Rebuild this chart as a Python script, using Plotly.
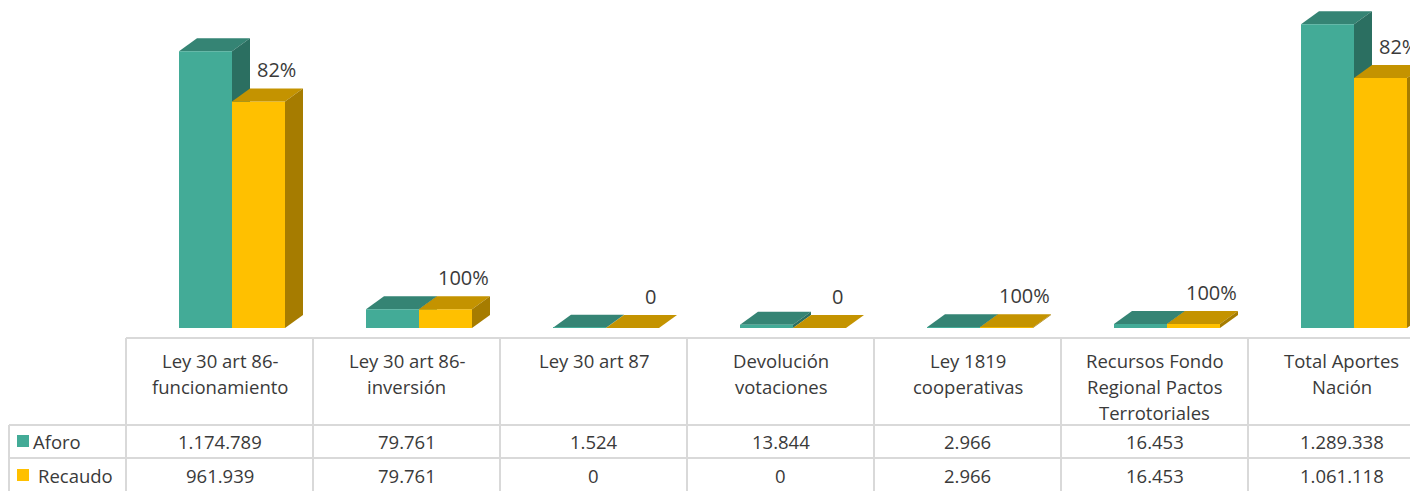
import plotly.graph_objects as go

categories = [
    "Ley 30 art 86-\nfuncionamiento",
    "Ley 30 art 86-\ninversión",
    "Ley 30 art 87",
    "Devolución\nvotaciones",
    "Ley 1819\ncooperativas",
    "Recursos Fondo\nRegional Pactos\nTerrotoriales",
    "Total Aportes\nNación",
]
aforo = [1174789, 79761, 1524, 13844, 2966, 16453, 1289338]
recaudo = [961939, 79761, 0, 0, 2966, 16453, 1061118]
series_names = ["Aforo", "Recaudo"]

PAGE_W, PAGE_H = 1418, 491
PAD = 8                     # browser body margin around the figure
W, H = PAGE_W - PAD, PAGE_H - PAD
BASE_PX = 328.0             # page pixel row of the value 0
K = 276.7 / 1174789         # pixels per unit
COL_W = 187.0               # pixels per category column
COL0_PX = 219.5             # page pixel centre of the first column


def yv(py):
    """page pixel row -> y data value"""
    return (BASE_PX - py) / K


def xv(px):
    """page pixel column -> x data value"""
    return (px - COL0_PX) / COL_W


DX = 18 / COL_W
DY = 13 / K
BAR_W = 53 / COL_W
OFF = {"Aforo": -40.5 / COL_W, "Recaudo": 12.5 / COL_W}
COLORS = {
    "Aforo": ("#43AB97", "#358474", "#2B6F61"),
    "Recaudo": ("#FFC000", "#C49300", "#A67C00"),
}
TXT = "#3A3A3A"
FONT = "Open Sans"
GRID = "#D9D9D9"

pos = list(range(len(categories)))
fig = go.Figure()
shapes = []

for name, vals in zip(series_names, [aforo, recaudo]):
    front, top, side = COLORS[name]
    fig.add_trace(go.Bar(
        x=pos, y=vals, name=name, offset=OFF[name], width=BAR_W,
        marker=dict(color=front, line=dict(width=0)), showlegend=False,
        hoverinfo="y",
    ))
    layer = "below" if name == "Aforo" else "above"
    for i, v in zip(pos, vals):
        xl = i + OFF[name]
        xr = xl + BAR_W
        # top face
        shapes.append(dict(
            type="path", xref="x", yref="y", layer=layer,
            path=f"M{xl},{v} L{xr},{v} L{xr+DX},{v+DY} L{xl+DX},{v+DY} Z",
            fillcolor=top, line=dict(width=0),
        ))
        # side face
        shapes.append(dict(
            type="path", xref="x", yref="y", layer=layer,
            path=f"M{xr},0 L{xr},{v} L{xr+DX},{v+DY} L{xr+DX},{DY} Z",
            fillcolor=side, line=dict(width=0),
        ))

annotations = []
# percentage labels
for i, a, r in zip(pos, aforo, recaudo):
    pct = r / a
    label = "0" if r == 0 else f"{round(pct * 100)}%"
    annotations.append(dict(
        x=i + OFF["Recaudo"] + BAR_W / 2 + DX, y=r, xref="x", yref="y",
        text=label, showarrow=False, yshift=32, xanchor="center", yanchor="middle",
        font=dict(family=FONT, size=20, color=TXT),
    ))

# table grid
def hline(py, px0, px1):
    shapes.append(dict(type="line", xref="x", yref="y", layer="above",
                       x0=xv(px0), x1=xv(px1), y0=yv(py), y1=yv(py),
                       line=dict(color=GRID, width=2)))


def vline(px, py0, py1):
    shapes.append(dict(type="line", xref="x", yref="y", layer="above",
                       x0=xv(px), x1=xv(px), y0=yv(py0), y1=yv(py1),
                       line=dict(color=GRID, width=2)))


TOP_PX, ROW1_PX, ROW2_PX = 338, 425, 458
hline(TOP_PX, 126, PAGE_W + 10)
hline(ROW1_PX, 9, PAGE_W + 10)
hline(ROW2_PX, 9, PAGE_W + 10)
vline(9, ROW1_PX, PAGE_H + 5)
for i in pos:
    left = COL0_PX + COL_W * (i - 0.5)
    vline(left, TOP_PX, PAGE_H + 5)
vline(COL0_PX + COL_W * (len(pos) - 0.5), TOP_PX, PAGE_H + 5)

# header texts
for i, cat in zip(pos, categories):
    for j, line in enumerate(cat.split("\n")):
        annotations.append(dict(
            x=i, y=yv(360 + 26 * j), xref="x", yref="y", text=line,
            showarrow=False, xanchor="center", yanchor="middle",
            font=dict(family=FONT, size=18.5, color=TXT),
        ))

def fmt(v):
    return f"{v:,}".replace(",", ".")

for row_py, vals in zip([441, 475], [aforo, recaudo]):
    for i, v in zip(pos, vals):
        annotations.append(dict(
            x=i, y=yv(row_py), xref="x", yref="y", text=fmt(v),
            showarrow=False, xanchor="center", yanchor="middle",
            font=dict(family=FONT, size=18.5, color=TXT),
        ))

# legend keys inside the table
for name, row_py, text_px in zip(series_names, [441, 475], [31, 36]):
    shapes.append(dict(type="rect", xref="x", yref="y", layer="above",
                       x0=xv(17), x1=xv(29), y0=yv(row_py - 6), y1=yv(row_py + 6),
                       fillcolor=COLORS[name][0], line=dict(width=0)))
    annotations.append(dict(
        x=xv(text_px), y=yv(row_py), xref="x", yref="y", text=name,
        showarrow=False, xanchor="left", yanchor="middle",
        font=dict(family=FONT, size=18.5, color=TXT),
    ))

fig.update_layout(
    width=W, height=H,
    margin=dict(l=0, r=0, t=0, b=0),
    paper_bgcolor="white", plot_bgcolor="rgba(0,0,0,0)",
    barmode="overlay",
    xaxis=dict(range=[xv(PAD), xv(PAGE_W)], visible=False, fixedrange=True),
    yaxis=dict(range=[yv(PAGE_H), yv(PAD)], visible=False, fixedrange=True),
    shapes=shapes, annotations=annotations,
    showlegend=False,
)

fig.write_html("out.html")
